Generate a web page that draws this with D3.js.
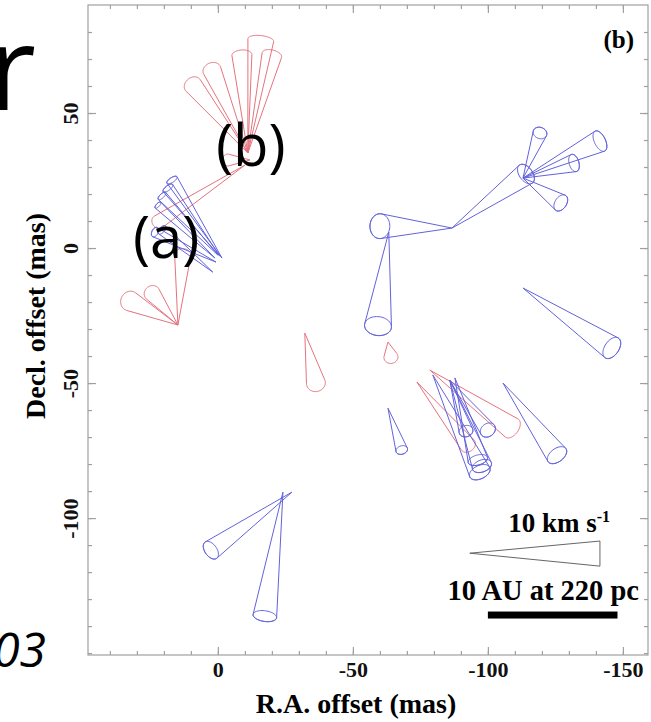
<!DOCTYPE html>
<html>
<head>
<meta charset="utf-8">
<script src="https://cdn.jsdelivr.net/npm/d3@7"></script>
<style>
  html, body { margin: 0; padding: 0; background: #fff; }
  svg { display: block; }
</style>
</head>
<body>
<div id="chart"></div>
<script>
// --------------- Data (offsets in mas) ---------------
// cone = [apex RA, apex Dec, base RA, base Dec, base radius, ellipse flattening]
const redCones = [
  [-11.1, 35.2, 9.3, 60.4, 3.4, 0.8],
  [-11.1, 35.2, 2.2, 65.9, 3.4, 0.8],
  [-11.1, 35.2, -8.9, 71.5, 3.7, 0.5],
  [-11.1, 35.2, -15.9, 77.0, 4.8, 0.35],
  [-11.1, 35.2, -20.0, 71.5, 3.7, 0.5],
  [-11.9, 32.6, -3.7, 32.6, 2.2, 0.9],
  [-10.0, 30.7, 22.2, 9.6, 2.6, 0.8],
  [14.8, -28.5, 32.6, -19.6, 3.7, 0.9],
  [14.8, -28.5, 24.4, -16.7, 3.0, 0.9],
  [14.8, -28.5, 13.0, -2.6, 3.0, 0.8],
  [-63.0, -34.8, -64.1, -40.4, 2.6, 0.9],
  [-32.2, -31.5, -36.3, -50.0, 3.5, 0.9],
  [-73.7, -49.6, -92.6, -73.0, 3.0, 0.8],
  [-78.5, -45.2, -108.9, -66.7, 4.1, 0.6],
];
const blueCones = [
  [-1.5, -3.7, 17.0, 25.2, 2.2, 0.4],
  [-0.7, -3.0, 18.5, 22.2, 2.2, 0.4],
  [0.0, -2.6, 20.7, 19.3, 1.9, 0.4],
  [1.1, -3.7, 22.2, 15.9, 1.5, 0.4],
  [1.9, -8.9, 20.7, 6.7, 1.9, 0.5],
  [0.7, -5.2, 23.3, 5.9, 1.9, 0.6],
  [-86.7, 7.4, -114.1, 27.4, 4.1, 0.6],
  [-113.0, 25.9, -119.3, 42.6, 2.6, 0.8],
  [-113.0, 25.9, -141.5, 39.6, 4.1, 0.5],
  [-113.0, 25.9, -131.9, 31.5, 3.3, 0.55],
  [-113.0, 25.9, -127.0, 16.7, 3.3, 0.65],
  [-86.7, 7.4, -60.0, 8.1, 4.6, 0.8],
  [-63.3, 5.9, -59.3, -28.9, 5.0, 0.7],
  [-113.0, -14.8, -145.9, -37.0, 4.4, 0.6],
  [-63.0, -59.3, -68.1, -74.8, 2.2, 0.7],
  [-105.6, -50.0, -125.6, -76.7, 4.1, 0.6],
  [-79.6, -47.0, -97.0, -83.0, 4.1, 0.6],
  [-85.9, -48.9, -97.8, -80.7, 3.7, 0.6],
  [-85.9, -48.9, -100.0, -67.4, 3.0, 0.8],
  [-85.9, -48.9, -91.9, -67.8, 2.6, 0.8],
  [-87.8, -48.1, -96.3, -78.5, 3.7, 0.5],
  [-27.4, -90.4, 2.6, -111.9, 3.7, 0.6],
  [-24.1, -90.4, -17.4, -136.3, 4.4, 0.45],
];
const xMajorTicks = [0, -50, -100, -150];
const yMajorTicks = [50, 0, -50, -100];
const xMinorTicks = d3.range(-150, 41, 10);
const yMinorTicks = d3.range(-150, 81, 10);
// legend: velocity wedge (10 km/s) and 10 AU bar, in mas
const velWedge = [[-93.3, -113.0], [-141.5, -108.5], [-141.5, -117.8]];
const auBar = [-100, -148, -135.9];

// --------------- Constants ---------------
const WIDTH = 651, HEIGHT = 722;
const FRAME = { left: 88, right: 648, top: 5, bottom: 655 };
const BLUE = "#6262dc", RED = "#e4737e", AXIS = "#a0a0a0";
const SERIF = "'Liberation Serif', 'Times New Roman', serif";
const SANS = "'Open Sans', 'Noto Sans', sans-serif";

const x = d3.scaleLinear().domain([48.1, -159.3]).range([FRAME.left, FRAME.right]);
const y = d3.scaleLinear().domain([90.0, -150.7]).range([FRAME.top, FRAME.bottom]);

const svg = d3.select("#chart").append("svg")
  .attr("width", WIDTH).attr("height", HEIGHT);

// --------------- Frame & axes ---------------
svg.append("rect")
  .attr("x", FRAME.left).attr("y", FRAME.top)
  .attr("width", FRAME.right - FRAME.left).attr("height", FRAME.bottom - FRAME.top)
  .attr("fill", "none").attr("stroke", AXIS).attr("stroke-width", 1.2);

const styleAxis = (g) => {
  g.select(".domain").remove();
  g.selectAll(".tick line").attr("stroke", AXIS).attr("stroke-width", 1.2);
  g.selectAll("text").attr("font-family", SERIF).attr("font-weight", "bold")
    .attr("font-size", 22).attr("fill", "#111");
};

const plainNum = (d) => String(d); // hyphen minus, as in the original

const sides = [
  { axis: d3.axisBottom, scale: x, tr: `translate(0,${FRAME.bottom})`, minor: xMinorTicks, major: xMajorTicks, labels: true },
  { axis: d3.axisTop, scale: x, tr: `translate(0,${FRAME.top})`, minor: xMinorTicks, major: xMajorTicks, labels: false },
  { axis: d3.axisLeft, scale: y, tr: `translate(${FRAME.left},0)`, minor: yMinorTicks, major: yMajorTicks, labels: true, rotate: true },
  { axis: d3.axisRight, scale: y, tr: `translate(${FRAME.right},0)`, minor: yMinorTicks, major: yMajorTicks, labels: false },
];
sides.forEach((s) => {
  svg.append("g").attr("transform", s.tr)
    .call(s.axis(s.scale).tickValues(s.minor).tickSize(-4).tickFormat(""))
    .call(styleAxis);
  const g = svg.append("g").attr("transform", s.tr)
    .call(s.axis(s.scale).tickValues(s.major).tickSize(-8).tickPadding(6)
      .tickFormat(s.labels ? plainNum : ""))
    .call(styleAxis);
  if (s.rotate) {
    g.selectAll(".tick text")
      .attr("transform", "rotate(-90)")
      .attr("x", 0).attr("y", -10).attr("dy", 0)
      .attr("text-anchor", "middle");
  }
});

svg.append("text")
  .attr("x", 356).attr("y", 713)
  .attr("text-anchor", "middle")
  .attr("font-family", SERIF).attr("font-weight", "bold").attr("font-size", 28)
  .text("R.A. offset (mas)");

svg.append("text")
  .attr("transform", "translate(45,316) rotate(-90)")
  .attr("text-anchor", "middle")
  .attr("font-family", SERIF).attr("font-weight", "bold").attr("font-size", 28)
  .text("Decl. offset (mas)");

svg.append("text")
  .attr("x", 634).attr("y", 48)
  .attr("text-anchor", "end")
  .attr("font-family", SERIF).attr("font-weight", "bold").attr("font-size", 25)
  .text("(b)");

// --------------- Cones ---------------
const pxPerMas = Math.abs(x(1) - x(0));
const line = d3.line();

const coneGeom = (c) => {
  const [ax, ay, bx, by, r, k] = c;
  const A = [x(ax), y(ay)], B = [x(bx), y(by)];
  const dx = B[0] - A[0], dy = B[1] - A[1];
  const L = Math.hypot(dx, dy);
  const u = [dx / L, dy / L], n = [-u[1], u[0]];
  const R = r * pxPerMas;
  const pt = (t) => [
    B[0] + R * Math.cos(t) * n[0] + R * k * Math.sin(t) * u[0],
    B[1] + R * Math.cos(t) * n[1] + R * k * Math.sin(t) * u[1],
  ];
  const a = Math.asin(Math.min(0.95, (R * k) / L));
  const farArc = d3.range(0, 49).map((i) => pt(-a + ((Math.PI + 2 * a) * i) / 48));
  const ellipse = d3.range(0, 61).map((i) => pt((2 * Math.PI * i) / 60));
  return { outline: [A, ...farArc, A], ellipse };
};

const gRed = svg.append("g").attr("fill", "none").attr("stroke", RED).attr("stroke-width", 1);
redCones.forEach((c) => {
  gRed.append("path").attr("d", line(coneGeom(c).outline));
});

const gBlue = svg.append("g").attr("fill", "none").attr("stroke", BLUE).attr("stroke-width", 1);
blueCones.forEach((c) => {
  const g = coneGeom(c);
  gBlue.append("path").attr("d", line(g.outline));
  gBlue.append("path").attr("d", line(g.ellipse));
});

// --------------- Legend ---------------
svg.append("path")
  .attr("d", d3.line().curve(d3.curveLinearClosed)(velWedge.map(([a, b]) => [x(a), y(b)])))
  .attr("fill", "none").attr("stroke", "#666").attr("stroke-width", 1);

svg.append("text")
  .attr("x", 610).attr("y", 532)
  .attr("text-anchor", "end")
  .attr("font-family", SERIF).attr("font-weight", "bold").attr("font-size", 27)
  .text("10 km s")
  .append("tspan").attr("dy", -10).attr("font-size", 16).text("-1");

svg.append("text")
  .attr("x", 639).attr("y", 600)
  .attr("text-anchor", "end")
  .attr("font-family", SERIF).attr("font-weight", "bold").attr("font-size", 28.5)
  .text("10 AU at 220 pc");

svg.append("rect")
  .attr("x", x(auBar[0])).attr("y", y(auBar[2]) - 3.5)
  .attr("width", x(auBar[1]) - x(auBar[0])).attr("height", 7)
  .attr("fill", "#000");

// --------------- Overlaid annotations ---------------
const overlay = [
  { t: "r", x: 36, y: 110, size: 118, anchor: "end", style: "normal" },
  { t: "(b)", x: 216, y: 166, size: 58, anchor: "start", style: "normal" },
  { t: "(a)", x: 133, y: 258, size: 58, anchor: "start", style: "normal" },
  { t: "03", x: 46, y: 667, size: 48, anchor: "end", style: "italic" },
];
svg.append("g").selectAll("text").data(overlay).join("text")
  .attr("x", (d) => d.x).attr("y", (d) => d.y)
  .attr("text-anchor", (d) => d.anchor)
  .attr("font-family", SANS).attr("font-size", (d) => d.size)
  .attr("font-style", (d) => d.style)
  .attr("fill", "#000")
  .text((d) => d.t);
</script>
</body>
</html>
